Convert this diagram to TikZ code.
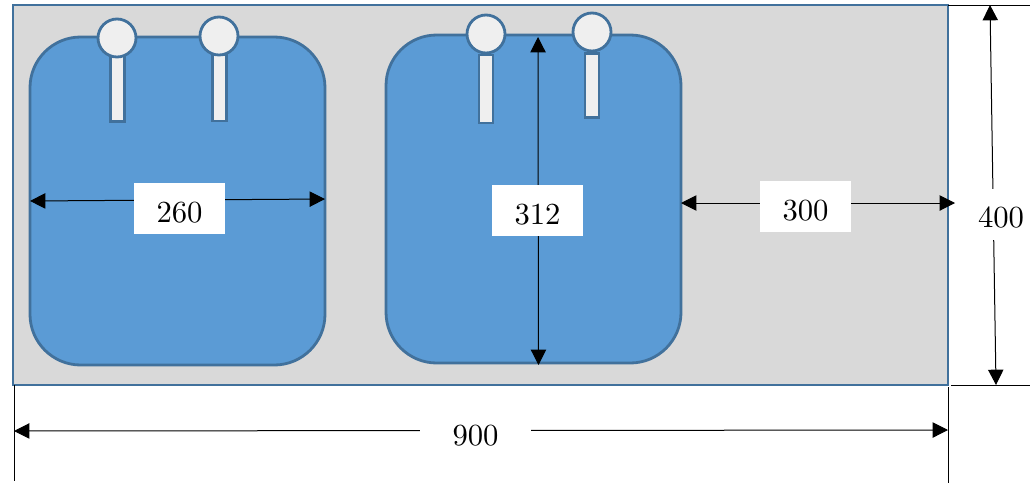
\documentclass[tikz,border=0pt]{standalone}
\usetikzlibrary{arrows.meta}
\definecolor{edgeblue}{HTML}{41719C}
\definecolor{basinblue}{HTML}{5B9BD5}
\definecolor{benchgrey}{HTML}{D9D9D9}
\definecolor{tapgrey}{HTML}{EFEFEF}
\font\dimfont=cmr10 at 23pt
\newcommand{\dimtext}[1]{\raisebox{-10.4pt}[0pt][0pt]{\dimfont #1}}
\begin{document}
\begin{tikzpicture}[x=0.75pt,y=-0.75pt,
  shapebase/.style={draw=edgeblue,line width=2.1pt,inner sep=0pt,outer sep=0pt},
  bench/.style={shapebase,fill=benchgrey,rectangle,minimum width=701.25pt,minimum height=285pt},
  basin/.style={shapebase,fill=basinblue,rectangle,rounded corners=38pt,minimum width=221.25pt,minimum height=246pt},
  tapstem/.style={shapebase,fill=tapgrey,rectangle,minimum width=10.5pt,line width=1.7pt},
  taphead/.style={shapebase,fill=tapgrey,circle,minimum size=28.5pt},
  dim/.style={{Triangle[length=11.5pt,width=11.5pt]}-{Triangle[length=11.5pt,width=11.5pt]},black,line width=0.75pt},
  ext/.style={black,line width=0.75pt},
  lab/.style={fill=white,inner sep=0pt,minimum width=68.25pt,minimum height=38.25pt,text=black}]
\useasboundingbox (0,0) rectangle (1030,486);
\node[bench] (bench) at (480.5,195) {};
\node[basin] (b1) at (177.5,201) {};
\node[basin] (b2) at (533.5,199) {};
% taps
\node[tapstem,minimum height=49.5pt] (s1) at (117.5,88.5) {};
\node[tapstem,minimum height=49.5pt] (s2) at (219.5,88) {};
\node[tapstem,minimum height=51pt] (s3) at (486,89) {};
\node[tapstem,minimum height=48pt] (s4) at (592,85.5) {};
\node[taphead] (h1) at (117,38) {};
\node[taphead] (h2) at (219,36) {};
\node[taphead] (h3) at (486,34) {};
\node[taphead] (h4) at (592,32) {};
% named ends
\coordinate (a1) at (30,201); \coordinate (a2) at (325,199);
\coordinate (c1) at (538,37); \coordinate (c2) at (538.5,365);
\coordinate (d1) at (681,203); \coordinate (d2) at (955,203);
\coordinate (e1) at (990,5); \coordinate (e2) at (996,385);
\coordinate (f1) at (14,431); \coordinate (f2) at (948,430);
\coordinate (t1) at (948,5); \coordinate (t2) at (1030,5);
\coordinate (u1) at (951,385); \coordinate (u2) at (1030,385);
\coordinate (v1) at (14,385); \coordinate (v2) at (14,481);
\coordinate (w1) at (948,387); \coordinate (w2) at (948,483);
% extension lines
\draw[ext] (t1) -- (t2);
\draw[ext] (u1) -- (u2);
\draw[ext] (v1) -- (v2);
\draw[ext] (w1) -- (w2);
% dimensions
\draw[dim] (a1) -- (a2);
\draw[dim] (c1) -- (c2);
\draw[dim] (d1) -- (d2);
\draw[dim] (e1) -- (e2);
\draw[dim] (f1) -- (f2);
% labels
\node[lab] (l260) at (179.5,208.5) {\dimtext{260}};
\node[lab] (l312) at (537.5,210.5) {\dimtext{312}};
\node[lab] (l300) at (805.5,206.5) {\dimtext{300}};
\node[lab,minimum width=41pt] (l400) at (1001,214) {\dimtext{400}};
\node[lab,minimum width=83pt] (l900) at (475.5,432) {\dimtext{900}};
\end{tikzpicture}
\end{document}
